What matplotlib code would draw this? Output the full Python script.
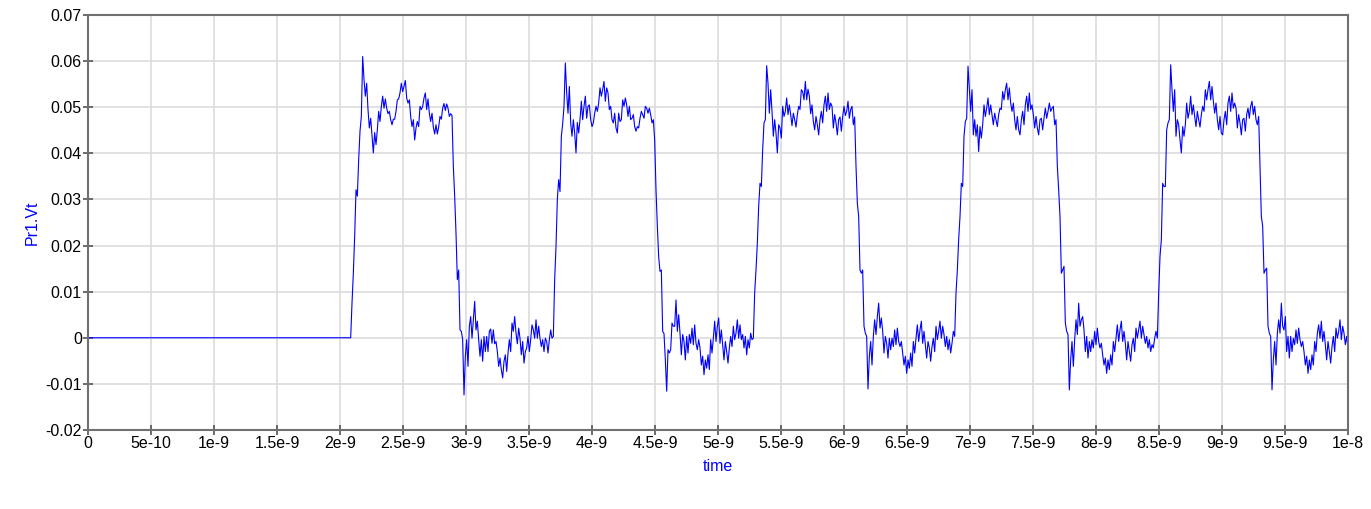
import numpy as np
import matplotlib
matplotlib.use("Agg")
import matplotlib.pyplot as plt

SAMPLE_START_NS = 2.0847
SAMPLE_STEP_NS = 0.010582

pulse1_mV = [
    0.0, 7.5, 14.0, 22.0, 32.1, 30.7, 38.6, 44.8, 48.0, 61.0, 56.0, 52.4, 55.2, 49.5, 45.5, 47.6,
    43.7, 40.1, 44.5, 41.9, 45.1, 49.1, 46.9, 50.2, 52.4, 49.8, 51.8, 49.8, 48.6, 49.1, 47.3, 46.2,
    47.4, 47.4, 49.1, 51.6, 51.8, 53.1, 55.2, 53.4, 54.5, 55.8, 52.0, 50.9, 51.6, 48.0, 45.8, 47.3,
    42.9, 45.5, 46.9, 45.8, 50.2, 49.5, 50.2, 52.0, 53.1, 49.5, 51.8, 48.7, 46.9, 48.7, 45.7, 44.2,
    46.2, 44.2, 45.7, 48.0, 47.4, 49.8, 50.8, 49.3, 50.7, 49.8, 48.0, 48.6, 48.2, 37.2, 30.7, 22.7,
    12.6, 14.7, 1.7, 1.4, -0.4, -12.4, -4.0, -0.4, -6.2, 2.5, 4.6, -0.1, 3.9, 7.9, 1.7, 3.6,
    -0.4, -4.0, -0.4, -5.1, 0.3, -3.0, 0.3, -3.0, 1.4, 1.9, -1.2, 1.7, -1.3, -0.8, -3.0, -6.2,
    -4.4, -6.9, -8.7, -5.1, -3.7, -7.3, -3.3, -0.4, -3.0, 3.2, 1.4, 4.6, 1.0, -1.3, 2.1, -0.1,
    -3.7, -0.8, -5.5, -3.0, -2.2, 0.3, -3.0, -0.4, 2.8, 1.7, -0.1, 3.9, -0.1, 2.5, -0.1, -1.9,
    -0.4, -3.0, -0.1, -0.8, -3.3, -0.4, 1.7, -0.1,
]
pulse2_mV = [
    0.3, 12.6, 19.8, 30.0, 34.3, 31.7, 43.7, 46.4, 50.2, 59.6, 53.1, 48.7, 54.5, 46.6, 43.7, 47.3,
    44.4, 40.1, 46.7, 44.4, 47.3, 51.3, 47.3, 50.2, 52.4, 47.6, 50.2, 50.5, 47.3, 45.8, 46.6, 48.7,
    50.2, 49.1, 50.9, 54.2, 52.4, 53.8, 55.6, 51.3, 54.2, 53.1, 49.5, 50.2, 47.3, 46.6, 48.7, 45.5,
    44.4, 48.7, 46.9, 47.3, 51.6, 50.2, 52.0, 50.5, 48.0, 50.2, 47.3, 47.6, 48.4, 45.8, 44.8, 45.8,
    45.5, 47.6, 49.1, 48.4, 47.6, 50.2, 49.8, 48.7, 49.8, 48.4, 46.6, 47.3, 42.9, 32.1, 24.2, 17.6,
    14.4, 14.7, 1.4, 0.9, -4.8, -11.6, -2.6, -3.3, -2.6, 3.2, 2.5, 2.5, 8.2, 1.4, 5.0, 1.0,
    -3.7, 0.7, -0.8, -4.8, 0.3, -3.3, 0.7, -1.2, 2.1, -1.5, 2.8, -1.2, -2.6, -0.4, -2.2, -5.9,
    -4.0, -8.0, -4.8, -6.6, -3.7, -6.9, -0.4, -3.3, -0.1, 3.6, -0.8, 2.5, 4.3, -1.2, 1.7, -1.5,
    -4.8, -0.8, -3.0, -5.5, -2.2, 0.3, -1.9, 2.5, -0.4, 1.0, 3.9, -0.1, 2.8, -0.4, 0.7, -2.2,
    0.3, -3.7, -0.4, -2.2, 1.0, -0.4,
]
pulse3_mV = [
    -0.1, 9.7, 14.7, 20.5, 28.5, 33.5, 32.8, 40.8, 46.6, 47.3, 59.0, 55.2, 48.7, 53.8, 49.1, 43.7,
    47.3, 44.4, 40.1, 46.2, 45.5, 43.3, 50.2, 48.0, 49.1, 52.0, 48.4, 50.5, 48.4, 46.0, 48.7, 47.3,
    45.7, 48.4, 50.2, 49.5, 53.8, 53.4, 51.6, 55.6, 51.6, 53.9, 52.4, 48.6, 50.5, 46.9, 45.1, 48.0,
    46.2, 44.0, 47.3, 49.1, 46.6, 50.5, 52.4, 49.1, 53.1, 49.5, 50.9, 50.2, 45.5, 48.4, 46.6, 44.0,
    47.3, 47.9, 44.8, 48.0, 50.2, 48.2, 49.1, 51.3, 47.6, 49.5, 50.2, 46.2, 47.9, 37.2, 29.2, 26.3,
    14.7, 14.0, 14.7, 2.5, 1.0, 0.3, -11.1, -4.0, -0.8, -5.9, 0.3, 3.9, 0.7, 4.6, 7.5, 2.1,
    4.3, 1.4, -3.3, 0.3, -1.2, -4.4, -0.1, -2.6, -0.1, -1.9, 1.7, -1.5, 2.1, -0.8, -1.9, -0.8,
    -3.3, -5.9, -4.0, -7.7, -4.8, -6.6, -3.3, -6.2, -0.8, -3.3, -0.1, 2.8, -0.8, 1.7, 3.6, -1.2,
    1.4, -1.5, -4.4, -0.8, -2.2, -5.1, -1.9, -0.1, -3.0, 2.5, -0.4, 1.4, 3.6, -0.1, 2.5, 0.7,
    -1.9, 0.3, -2.6, -0.4, -3.3, -1.2,
]
pulse4_mV = [
    1.4, 0.3, 9.7, 14.7, 21.3, 26.3, 33.5, 32.8, 43.7, 46.9, 47.6, 58.9, 53.8, 49.1, 53.8, 44.0,
    47.3, 43.7, 46.2, 40.4, 45.8, 43.3, 46.2, 50.5, 48.0, 49.8, 52.0, 48.4, 50.5, 48.4, 46.2, 48.7,
    47.3, 45.8, 48.4, 49.8, 49.5, 53.4, 51.6, 53.8, 55.2, 51.6, 54.2, 50.9, 49.1, 50.9, 47.3, 45.1,
    48.0, 45.1, 44.0, 47.3, 49.1, 46.2, 50.5, 52.4, 49.1, 53.1, 49.5, 50.5, 48.4, 45.5, 48.0, 45.5,
    44.0, 47.3, 47.6, 45.1, 47.6, 49.8, 47.6, 49.1, 50.9, 49.1, 49.8, 50.2, 46.2, 47.3, 37.2, 32.1,
    26.3, 14.0, 14.7, 15.5, 3.2, 1.4, 0.7, -11.3, -4.8, -0.8, -6.2, -0.4, 3.9, 0.7, 7.5, 2.5,
    3.9, 4.6, 1.7, -3.0, 0.3, -4.4, -0.8, -3.0, -0.4, -2.2, 1.4, -1.5, 2.1, -0.8, -2.2, -1.2,
    -3.7, -5.9, -4.4, -7.7, -4.8, -6.9, -3.7, -5.9, -0.8, -3.0, -0.1, 2.8, -0.8, 1.7, 3.6, -0.8,
    1.4, -1.2, -4.8, -0.8, -3.0, -5.1, -1.5, -0.1, -3.0, 2.1, -0.1, 1.7, 3.6, -0.1, 2.5, 0.7,
    -1.2, 0.3, -2.2, -0.4, -3.0, -1.5,
]
pulse5_mV = [
    -2.2, -0.1, 1.4, -0.1, 9.7, 17.6, 21.3, 33.5, 32.8, 32.8, 45.1, 46.6, 47.3, 59.2, 53.8, 49.1,
    53.8, 43.7, 47.3, 46.2, 42.9, 40.1, 45.8, 43.7, 46.2, 50.9, 47.6, 49.1, 52.4, 48.4, 50.5, 48.0,
    45.8, 49.1, 47.3, 45.7, 48.4, 50.2, 49.1, 53.8, 51.6, 53.8, 55.6, 51.6, 54.5, 51.3, 48.7, 50.9,
    47.3, 45.1, 48.0, 44.4, 44.0, 47.3, 49.1, 46.2, 50.9, 52.4, 49.1, 53.1, 49.8, 50.9, 49.8, 45.5,
    48.4, 46.6, 44.0, 47.3, 47.6, 44.8, 48.4, 49.8, 47.6, 50.2, 51.3, 48.4, 50.2, 47.3, 46.2, 48.0,
    37.2, 26.3, 24.2, 14.0, 14.7, 15.1, 2.5, 1.0, 0.3, -11.3, -4.8, -0.8, -5.9, 1.0, 3.9, 1.0,
    7.5, 2.5, 1.7, 4.6, -3.0, 0.3, -4.4, 0.3, -3.0, -0.1, -1.5, 1.7, -1.2, 2.1, -0.4, -1.9,
    -0.8, -3.0, -5.9, -4.0, -7.7, -4.8, -6.9, -3.7, -5.9, -0.8, -3.0, 1.0, 2.8, -0.1, 3.6, -0.8,
    1.4, -1.5, -4.8, -0.8, -3.0, -5.5, -1.9, 0.3, -3.0, 2.1, -0.1, 1.4, 3.9, -0.4, 2.5, 1.0,
    -1.5, 0.3, -2.2,
]

x_tick_values = [i * 0.5e-9 for i in range(21)]
x_tick_labels = ["0", "5e-10", "1e-9", "1.5e-9", "2e-9", "2.5e-9", "3e-9", "3.5e-9", "4e-9",
                 "4.5e-9", "5e-9", "5.5e-9", "6e-9", "6.5e-9", "7e-9", "7.5e-9", "8e-9",
                 "8.5e-9", "9e-9", "9.5e-9", "1e-8"]
y_tick_values = [-0.02, -0.01, 0, 0.01, 0.02, 0.03, 0.04, 0.05, 0.06, 0.07]
y_tick_labels = ["-0.02", "-0.01", "0", "0.01", "0.02", "0.03", "0.04", "0.05", "0.06", "0.07"]

samples_mV = np.array(pulse1_mV + pulse2_mV + pulse3_mV + pulse4_mV + pulse5_mV)
t_ns = SAMPLE_START_NS + SAMPLE_STEP_NS * np.arange(len(samples_mV))
time_s = np.concatenate([[0.0], t_ns]) * 1e-9
volts = np.concatenate([[0.0], samples_mV]) * 1e-3

plt.rcParams['font.family'] = ['Liberation Sans', 'DejaVu Sans']

fig = plt.figure(figsize=(13.71, 5.09), dpi=100)
ax = fig.add_axes([88 / 1371, 1 - 430 / 509, (1348 - 88) / 1371, (430 - 15) / 509])

ax.plot(time_s, volts, color='#0000ff', linewidth=0.8)

ax.set_xlim(0, 1e-8)
ax.set_ylim(-0.02, 0.07)
ax.set_xticks(x_tick_values)
ax.set_xticklabels(x_tick_labels)
ax.set_yticks(y_tick_values)
ax.set_yticklabels(y_tick_labels)

ax.grid(True, color='#dcdcdc', linewidth=1.2)
ax.set_axisbelow(True)
for s in ax.spines.values():
    s.set_color('#707070')
    s.set_linewidth(1.5)

ax.tick_params(axis='both', direction='inout', length=7, width=1.3, color='#606060',
               labelsize=11.5, labelcolor='black', pad=1)

ax.set_xlabel('time', color='#0000ff', fontsize=11.5)
ax.set_ylabel('Pr1.Vt', color='#0000ff', fontsize=11.5)
ax.xaxis.set_label_coords(0.5, -0.071)
ax.yaxis.set_label_coords(-0.038, 0.5)

fig.savefig('out.png', dpi=100)
